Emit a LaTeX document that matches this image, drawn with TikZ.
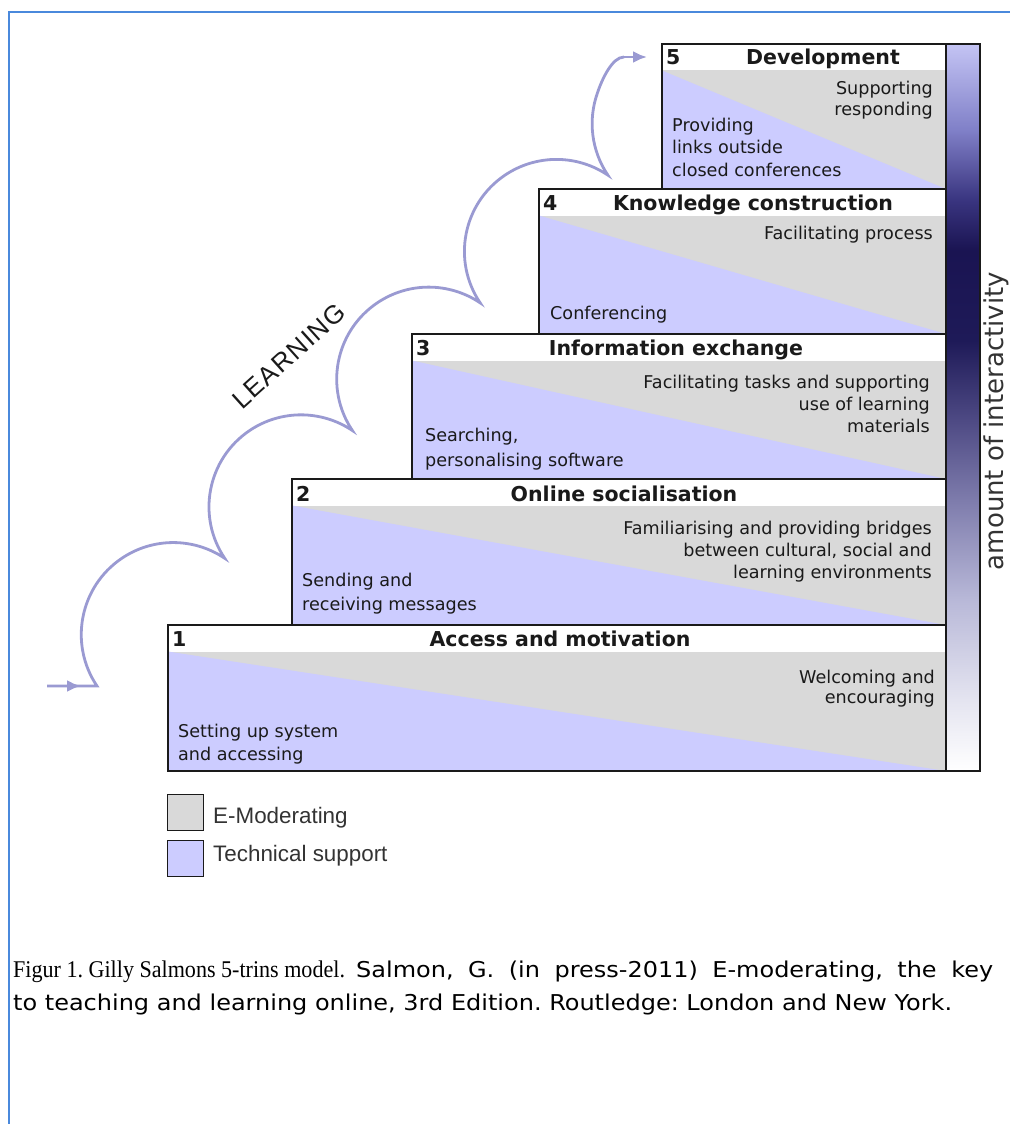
\documentclass[tikz,border=0pt]{standalone}
\usepackage{fontspec}
\usetikzlibrary{arrows.meta}
\newfontfamily\dvs{DejaVu Sans}
\newfontfamily\lbs{Liberation Sans}
\newfontfamily\lbsls[LetterSpace=5]{Liberation Sans}
\newfontfamily\lbserif[FakeStretch=0.92]{Liberation Serif}
\newfontfamily\capsans[FakeStretch=1.1]{DejaVu Sans}
\definecolor{emod}{HTML}{D9D9D9}
\definecolor{tech}{HTML}{CCCCFF}
\definecolor{curvecol}{HTML}{9A9AD2}
\definecolor{framecol}{HTML}{4A89DC}
\definecolor{ink}{HTML}{1A1A1A}
\definecolor{softink}{HTML}{333333}
\pgfdeclareverticalshading{interact}{100bp}{rgb(0bp)=(1,1,1); rgb(25bp)=(1,1,1); rgb(29.9bp)=(0.894,0.894,0.941); rgb(36.8bp)=(0.722,0.722,0.847); rgb(43.6bp)=(0.494,0.486,0.675); rgb(49.1bp)=(0.306,0.29,0.518); rgb(54.6bp)=(0.118,0.102,0.345); rgb(60.8bp)=(0.102,0.078,0.322); rgb(64.3bp)=(0.227,0.208,0.502); rgb(69.1bp)=(0.502,0.502,0.784); rgb(75bp)=(0.769,0.769,0.957); rgb(100bp)=(0.769,0.769,0.957)}
\tikzset{
  hdr/.style={font=\dvs\bfseries\fontsize{20.5}{24}\selectfont, text=ink, inner sep=0pt},
  num/.style={hdr, anchor=base west},
  ttl/.style={hdr, anchor=base},
  rtxt/.style={font=\dvs\fontsize{17.6}{21}\selectfont, text=ink, inner sep=0pt, anchor=base east},
  ltxt/.style={font=\dvs\fontsize{17.6}{21}\selectfont, text=ink, inner sep=0pt, anchor=base west},
  boxline/.style={draw=ink, line width=1.8pt},
  learncurve/.style={draw=curvecol, line width=2.8pt},
  legbox/.style={draw=ink, line width=1.6pt, minimum width=36pt, minimum height=36pt, inner sep=0pt},
  legtxt/.style={font=\lbs\fontsize{22.4}{26}\selectfont, text=softink, inner sep=0pt, anchor=base west},
  captxt/.style={inner sep=0pt, anchor=base west, text=black}
}
\begin{document}
\frenchspacing
\begin{tikzpicture}[x=1pt, y=-1pt]
\useasboundingbox (0,0) rectangle (1010,1124);
\fill[white] (0,0) rectangle (1010,1124);
\draw[framecol, line width=2.2pt] (9,1124) -- (9,12) -- (1010,12);

% steps
\foreach \L/\T/\B in {168/625/771, 292/479/625, 412/334/479, 539/189/334, 662/44/189}{
  \fill[white] (\L,\T) rectangle (946,\T+26.5);
  \fill[emod] (\L,\T+26.5) rectangle (946,\B);
  \fill[tech] (\L,\T+26.5) -- (\L,\B) -- (946,\B) -- cycle;
  \draw[boxline] (\L,\T) rectangle (946,\B);
}

% interactivity bar
\shade[shading=interact] (946,44) rectangle (980,771);
\draw[boxline] (946,44) rectangle (980,771);
\node[font=\dvs\fontsize{26}{30}\selectfont, text=softink, rotate=90, anchor=base, inner sep=0pt] (inter) at (1003,421) {amount of interactivity};

% step 5
\node[num] (n5) at (666,65) {5};
\node[ttl] (t5) at (823,65) {Development};
\node[rtxt] (r5a) at (933,95) {Supporting};
\node[rtxt] (r5b) at (933,115) {responding};
\node[ltxt] (l5a) at (672,131) {Providing};
\node[ltxt] (l5b) at (672,153) {links outside};
\node[ltxt] (l5c) at (672,176) {closed conferences};

% step 4
\node[num] (n4) at (543,210) {4};
\node[ttl] (t4) at (753,210) {Knowledge construction};
\node[rtxt] (r4a) at (933,239) {Facilitating process};
\node[ltxt] (l4a) at (550,319) {Conferencing};

% step 3
\node[num] (n3) at (416,355) {3};
\node[ttl] (t3) at (676,355) {Information exchange};
\node[rtxt] (r3a) at (930,388) {Facilitating tasks and supporting};
\node[rtxt] (r3b) at (930,410) {use of learning};
\node[rtxt] (r3c) at (930,432) {materials};
\node[ltxt] (l3a) at (425,441) {Searching,};
\node[ltxt] (l3b) at (425,466) {personalising software};

% step 2
\node[num] (n2) at (296,501) {2};
\node[ttl] (t2) at (624,501) {Online socialisation};
\node[rtxt] (r2a) at (932,534) {Familiarising and providing bridges};
\node[rtxt] (r2b) at (932,556) {between cultural, social and};
\node[rtxt] (r2c) at (932,578) {learning environments};
\node[ltxt] (l2a) at (302,586) {Sending and};
\node[ltxt] (l2b) at (302,610) {receiving messages};

% step 1
\node[num] (n1) at (172,646) {1};
\node[ttl] (t1) at (560,646) {Access and motivation};
\node[rtxt] (r1a) at (935,683) {Welcoming and};
\node[rtxt] (r1b) at (935,703) {encouraging};
\node[ltxt] (l1a) at (178,737) {Setting up system};
\node[ltxt] (l1b) at (178,760) {and accessing};

% learning curve
\coordinate (cstart) at (47,686);
\coordinate (cmid) at (81,686);
\coordinate (c0) at (97,686);
\coordinate (ctop) at (624,57);
\coordinate (cend) at (647,57);
\draw[learncurve] (cstart) -- (c0)
  arc[start angle=146, end angle=304, radius=92]
  arc[start angle=146, end angle=304, radius=92]
  arc[start angle=146, end angle=304, radius=92]
  arc[start angle=146, end angle=304, radius=92]
  arc[start angle=146, end angle=200, radius=92]
  .. controls +(4,-12) and +(-12,0) .. (ctop);
\draw[learncurve, -{Latex[length=14pt, width=12pt]}] (ctop) -- (cend);
\draw[learncurve, -{Latex[length=14pt, width=12pt]}] (cstart) -- (cmid);
\node[font=\lbsls\fontsize{26}{30}\selectfont, text=ink, rotate=42, inner sep=0pt] (learn) at (289,356) {LEARNING};

% legend
\node[legbox, fill=emod] (lg1) at (185.5,812.5) {};
\node[legbox, fill=tech] (lg2) at (185.5,858.5) {};
\node[legtxt] (lt1) at (213,823) {E-Moderating};
\node[legtxt] (lt2) at (213,861) {Technical support};

% caption
\node[captxt, font=\lbserif\fontsize{24}{28}\selectfont] (cap1a) at (13,977) {Figur 1. Gilly Salmons 5-trins model.};
\node[captxt, font=\capsans\fontsize{21.8}{26}\selectfont] (cap1b) at (356,977) {\makebox[637pt][s]{Salmon, G. (in press-2011) E-moderating, the key}};
\node[captxt, font=\capsans\fontsize{21.8}{26}\selectfont] (cap2) at (13,1010) {to teaching and learning online, 3rd Edition. Routledge: London and New York.};
\end{tikzpicture}
\end{document}
